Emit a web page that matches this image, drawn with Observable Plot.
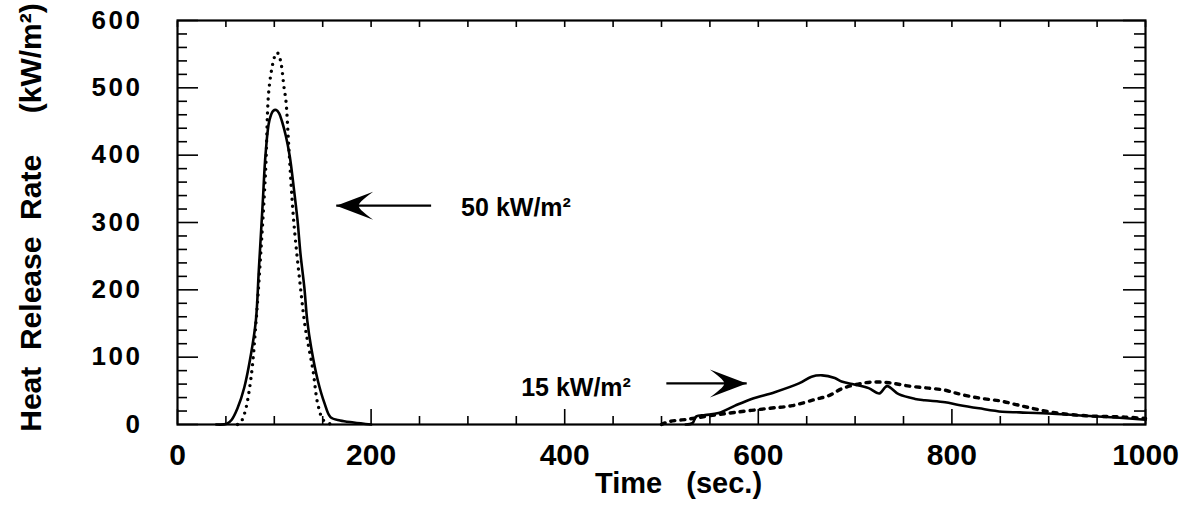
<!DOCTYPE html>
<html><head><meta charset="utf-8">
<script src="https://cdn.jsdelivr.net/npm/d3@7"></script>
<script src="https://cdn.jsdelivr.net/npm/@observablehq/plot@0.6"></script>
<style>
html,body{margin:0;padding:0;background:#fff;}
svg text{white-space:pre;}
g[aria-label="y-axis tick label"] text{letter-spacing:2.5px;}
</style></head><body><div id="chart"></div>
<script>
// 50 kW/m2 – solid
const solid50T = [40, 51, 56, 62, 69, 76, 81, 84, 88, 91, 95, 99, 102, 105, 108, 112, 116, 120, 124, 127, 131, 134, 138, 145, 152, 158, 168, 182, 200];
const solid50V = [0, 1, 7, 24, 55, 105, 155, 229, 328, 402, 452, 466, 467, 462, 450, 428, 398, 353, 303, 254, 204, 155, 115, 65, 31, 11, 6, 3, 0];
// 50 kW/m2 – dotted
const dot50T = [62, 66, 70, 76, 81, 86, 91, 94, 97, 100, 102, 104, 107, 110, 112, 115, 120, 127, 132, 140, 145, 151, 160];
const dot50V = [0, 5, 20, 70, 150, 254, 377, 490, 525, 545, 552, 551, 536, 501, 481, 412, 303, 204, 144, 80, 30, 6, 0];
// 15 kW/m2 – solid
const solid15T = [525, 532, 536, 545, 559, 576, 593, 617, 642, 655, 666, 679, 686, 697, 714, 725, 733, 745, 762, 772, 793, 807, 828, 852, 870, 904, 938, 973, 1000];
const solid15V = [0, 2, 12, 14, 17, 28, 38, 48, 61, 71, 73, 69, 64, 60, 54, 46, 57, 45, 38, 36, 33, 29, 24, 19, 18, 16, 13, 10, 7];
// 15 kW/m2 – dashed
const dot15T = [500, 507, 528, 550, 576, 611, 635, 658, 673, 686, 700, 717, 735, 756, 776, 793, 803, 818, 834, 850, 865, 880, 904, 938, 979, 1000];
const dot15V = [0, 4, 8, 13, 18, 24, 28, 37, 43, 53, 59, 63, 62, 57, 54, 51, 47, 42, 38, 35, 30, 25, 18, 13, 11, 9];

// ticks
const xMajor = [0, 200, 400, 600, 800, 1000];
const xMinor = d3.range(0, 1001, 50);
const yMajor = [0, 100, 200, 300, 400, 500, 600];
const yMinor = d3.range(0, 601, 20);

// annotations
const noteLabels = ["50 kW/m²", "15 kW/m²"];
const noteX = [293, 355];
const noteY = [310, 43];
const arrowTail = [262, 505];
const arrowTip = [164, 588];
const arrowY = [325, 61];
const arrowRotate = [180, 0];

const yTitle = "Heat  Release  Rate     (kW/m²)";
const xTitle = "Time   (sec.)";

const toRows = (T, V) => T.map((t, i) => ({t, v: V[i]}));

// filled, barbed arrow head pointing right with its tip at the origin
const arrowHead = {
  draw(context, size) {
    const L = Math.sqrt(size) * 1.6;
    context.moveTo(0, 0);
    context.lineTo(-L, -0.38 * L);
    context.quadraticCurveTo(-0.55 * L, -0.05 * L, -0.62 * L, 0);
    context.quadraticCurveTo(-0.55 * L, 0.05 * L, -L, 0.38 * L);
    context.closePath();
  }
};

const chart = Plot.plot({
  width: 1187, height: 505,
  marginLeft: 177, marginRight: 42, marginTop: 20, marginBottom: 81,
  x: {domain: [0, 1000]},
  y: {domain: [0, 600]},
  style: {fontFamily: "'Liberation Sans', Arial, Helvetica, sans-serif", fontWeight: "bold", background: "white", color: "black"},
  marks: [
    // inward ticks
    Plot.axisX(xMinor.filter(d => !xMajor.includes(d)), {anchor: "bottom", tickSize: -8, fill: "none", stroke: "black", strokeWidth: 1.6, label: null}),
    Plot.axisX(xMajor, {anchor: "bottom", tickSize: -15, fill: "none", stroke: "black", strokeWidth: 1.6, label: null}),
    Plot.axisX(xMinor, {anchor: "top", tickSize: -6, fill: "none", stroke: "black", strokeWidth: 1.6, label: null}),
    Plot.axisY(yMinor.filter(d => !yMajor.includes(d)), {anchor: "left", tickSize: -10, fill: "none", stroke: "black", strokeWidth: 1.6, label: null}),
    Plot.axisY(yMajor, {anchor: "left", tickSize: -21, fill: "none", stroke: "black", strokeWidth: 1.6, label: null}),
    Plot.axisY(yMinor.filter(d => !yMajor.includes(d)), {anchor: "right", tickSize: -12, fill: "none", stroke: "black", strokeWidth: 1.6, label: null}),
    Plot.axisY(yMajor, {anchor: "right", tickSize: -23, fill: "none", stroke: "black", strokeWidth: 1.6, label: null}),
    // tick labels
    Plot.axisX(xMajor, {anchor: "bottom", tickSize: 0, tickPadding: 19, fontSize: 30, fontWeight: "bold", label: null, tickFormat: d => String(d)}),
    Plot.axisY(yMajor, {anchor: "left", tickSize: 0, tickPadding: 35, fontSize: 26, fontWeight: "bold", label: null, tickFormat: d => String(d)}),
    Plot.frame({stroke: "black", strokeWidth: 2.2}),
    // curves
    Plot.line(toRows(solid50T, solid50V), {x: "t", y: "v", curve: "catmull-rom", stroke: "black", strokeWidth: 2.6}),
    Plot.line(toRows(dot50T, dot50V), {x: "t", y: "v", curve: "catmull-rom", stroke: "black", strokeWidth: 3.4, strokeDasharray: "0 7", strokeLinecap: "round"}),
    Plot.line(toRows(solid15T, solid15V), {x: "t", y: "v", curve: "catmull-rom", stroke: "black", strokeWidth: 2.6}),
    Plot.line(toRows(dot15T, dot15V), {x: "t", y: "v", curve: "catmull-rom", stroke: "black", strokeWidth: 3.4, strokeDasharray: "4 6", strokeLinecap: "round"}),
    // annotations
    Plot.link(noteLabels, {x1: (d, i) => arrowTail[i], x2: (d, i) => arrowTip[i], y1: (d, i) => arrowY[i], y2: (d, i) => arrowY[i], stroke: "black", strokeWidth: 2.2}),
    Plot.dot(noteLabels, {x: (d, i) => arrowTip[i], y: (d, i) => arrowY[i], rotate: (d, i) => arrowRotate[i], symbol: arrowHead, r: 13, fill: "black", stroke: "none"}),
    Plot.text(noteLabels, {x: (d, i) => noteX[i], y: (d, i) => noteY[i], text: d => d, textAnchor: "start", lineAnchor: "bottom", fontSize: 25, fontWeight: "bold"}),
    // axis titles
    Plot.text([yTitle], {frameAnchor: "left", dx: -146, dy: -5, rotate: -90, textAnchor: "middle", fontSize: 30, fontWeight: "bold"}),
    Plot.text([xTitle], {frameAnchor: "bottom", dx: 17, dy: 68, textAnchor: "middle", fontSize: 29, fontWeight: "bold"})
  ]
});
document.getElementById("chart").appendChild(chart);
</script></body></html>
